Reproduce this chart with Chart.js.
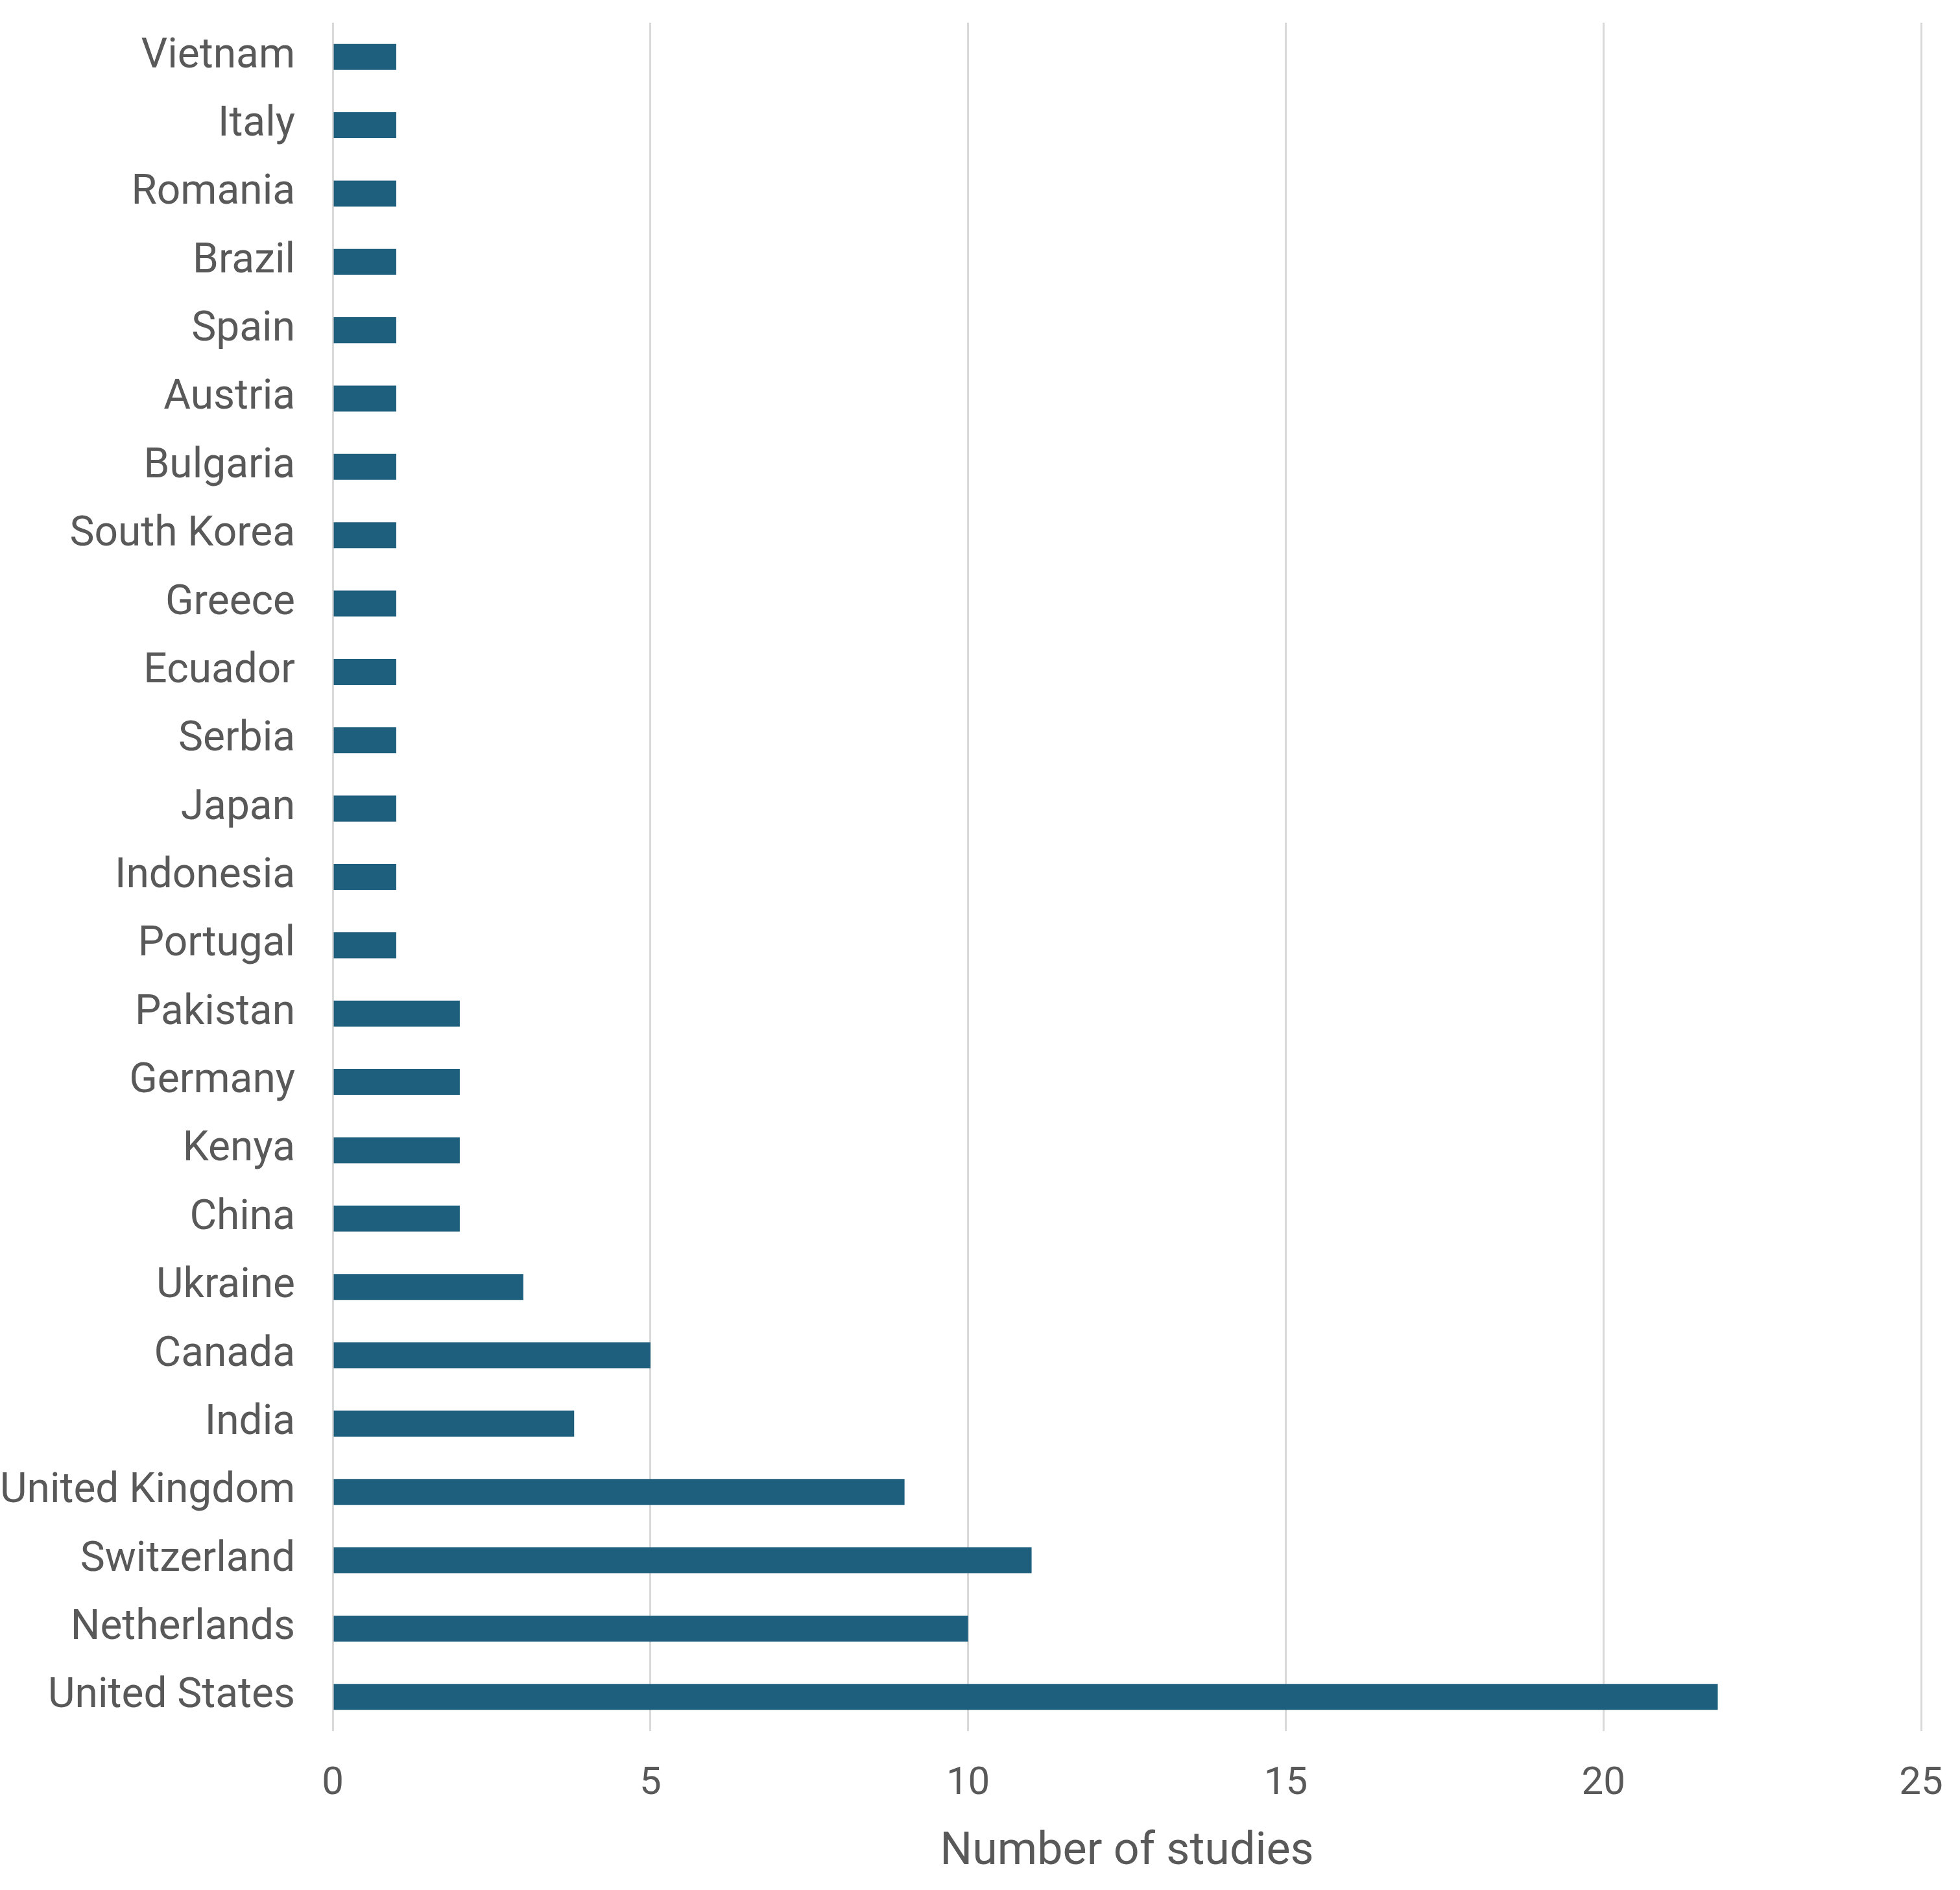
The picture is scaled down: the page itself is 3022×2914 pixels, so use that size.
<!DOCTYPE html>
<html>
<head>
<meta charset="utf-8">
<script src="https://cdn.jsdelivr.net/npm/chart.js@4"></script>
<style>
  html, body { margin: 0; padding: 0; background: #ffffff; }
  canvas { display: block; }
</style>
</head>
<body>
<canvas id="myChart" width="3022" height="2914" style="width:3022px;height:2914px"></canvas>
<script>
// countries top to bottom, as in the picture
var countries = ['Vietnam', 'Italy', 'Romania', 'Brazil', 'Spain', 'Austria', 'Bulgaria',
  'South Korea', 'Greece', 'Ecuador', 'Serbia', 'Japan', 'Indonesia', 'Portugal',
  'Pakistan', 'Germany', 'Kenya', 'China', 'Ukraine', 'Canada', 'India',
  'United Kingdom', 'Switzerland', 'Netherlands', 'United States'];
var studies = [1, 1, 1, 1, 1, 1, 1, 1, 1, 1, 1, 1, 1, 1,
  2, 2, 2, 2, 3, 5, 3.8, 9, 11, 10, 21.8];
var xTicks = [0, 5, 10, 15, 20, 25];

var textColor = '#595959';
var gridColor = '#d9d9d9';

// drop the extra room chart.js keeps for the edge labels
function noEdgePadding(scale) {
    scale.paddingTop = 0;
    scale.paddingBottom = 0;
    scale.paddingLeft = 0;
    scale.paddingRight = 0;
}

var ctx = document.getElementById('myChart').getContext('2d');
var chart = new Chart(ctx, {
    type: 'bar',
    data: {
        labels: countries,
        datasets: [{
            label: 'Number of studies',
            data: studies,
            backgroundColor: '#1e5f7e',
            borderWidth: 0,
            barPercentage: 0.38,
            categoryPercentage: 1
        }]
    },
    options: {
        indexAxis: 'y',
        responsive: false,
        animation: false,
        devicePixelRatio: 1,
        layout: {
            padding: { top: 35, right: 60, bottom: 0, left: 0 }
        },
        plugins: {
            legend: { display: false },
            tooltip: { enabled: false }
        },
        scales: {
            x: {
                type: 'linear',
                position: 'bottom',
                min: 0,
                max: 25,
                afterBuildTicks: function(scale) {
                    scale.ticks = xTicks.map(function(v) { return { value: v }; });
                },
                afterFit: function(scale) {
                    scale.height = 245;
                    noEdgePadding(scale);
                },
                grid: {
                    color: gridColor,
                    lineWidth: 3,
                    drawTicks: false
                },
                border: { display: false },
                ticks: {
                    color: textColor,
                    padding: 46,
                    font: { family: 'Roboto', size: 60 }
                },
                title: {
                    display: true,
                    text: 'Number of studies',
                    color: textColor,
                    font: { family: 'Roboto', size: 70 },
                    padding: { top: 0, bottom: 16 }
                }
            },
            y: {
                afterFit: function(scale) {
                    scale.width = 513;
                    noEdgePadding(scale);
                },
                grid: { display: false, drawTicks: false },
                border: { display: false },
                ticks: {
                    autoSkip: false,
                    color: textColor,
                    padding: 58,
                    font: { family: 'Roboto', size: 64 }
                }
            }
        }
    }
});
</script>
</body>
</html>
